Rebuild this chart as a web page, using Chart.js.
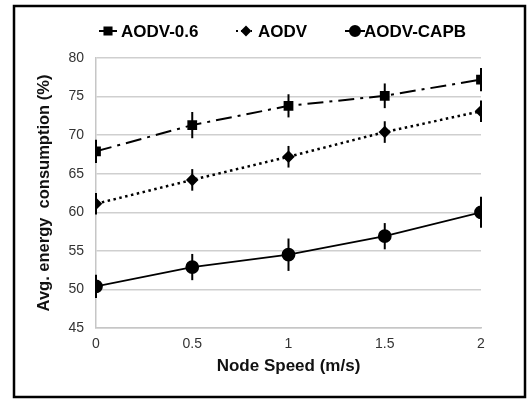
<!DOCTYPE html>
<html>
<head>
<meta charset="utf-8">
<script src="https://cdn.jsdelivr.net/npm/chart.js@4.4.0/dist/chart.umd.min.js"></script>
<style>
  html, body { margin: 0; padding: 0; background: #fff; }
  #wrap { width: 528px; height: 401px; position: relative; }
</style>
</head>
<body>
<div id="wrap"><canvas id="energy-chart" width="528" height="401"></canvas></div>
<script>
// Data
const speeds = [0, 0.5, 1, 1.5, 2];
const aodv06 = [67.9, 71.3, 73.8, 75.1, 77.2];
const aodv06Err = [1.5, 1.7, 1.5, 1.6, 1.5];
const aodv = [61.1, 64.2, 67.2, 70.4, 73.1];
const aodvErr = [1.4, 1.4, 1.4, 1.4, 1.4];
const aodvCapb = [50.4, 52.9, 54.5, 56.9, 60.0];
const aodvCapbErr = [1.5, 1.7, 2.1, 1.7, 2.0];
const seriesNames = ['AODV-0.6', 'AODV', 'AODV-CAPB'];
const yTicks = [45, 50, 55, 60, 65, 70, 75, 80];
const xTickLabels = ['0', '0.5', '1', '1.5', '2'];

const toPoints = (vals) => vals.map((v, i) => ({ x: speeds[i], y: v }));

// vertical error bars, no caps
const errorBars = {
    id: 'errorBars',
    afterDatasetsDraw(chart) {
        const ctx = chart.ctx;
        const xs = chart.scales.x, ys = chart.scales.y;
        ctx.save();
        ctx.strokeStyle = '#000';
        ctx.lineWidth = 2;
        chart.data.datasets.forEach(ds => {
            ds.data.forEach((p, i) => {
                const e = ds.errors[i];
                const px = xs.getPixelForValue(p.x);
                ctx.beginPath();
                ctx.moveTo(px, ys.getPixelForValue(p.y - e));
                ctx.lineTo(px, ys.getPixelForValue(p.y + e));
                ctx.stroke();
            });
        });
        ctx.restore();
    }
};

// legend (line + marker + name) and outer frame
const legendFrame = {
    id: 'legendFrame',
    afterDraw(chart) {
        const ctx = chart.ctx;
        ctx.save();
        ctx.strokeStyle = '#000';
        ctx.lineWidth = 2.5;
        ctx.strokeRect(14, 6, 511, 391);

        const y = 31;
        const items = [
            { x0: 99, x1: 117, mx: 108, tx: 121, dash: [], style: 'rect', r: 5 },
            { x0: 236, x1: 252, mx: 246, tx: 258, dash: [2, 3], style: 'rectRot', r: 4 },
            { x0: 345, x1: 365, mx: 355, tx: 364, dash: [], style: 'circle', r: 5 }
        ];
        items.forEach((it, i) => {
            ctx.beginPath();
            ctx.setLineDash(it.dash);
            ctx.lineWidth = 2;
            ctx.moveTo(it.x0, y);
            ctx.lineTo(it.x1, y);
            ctx.stroke();
            ctx.setLineDash([]);
            Chart.helpers.drawPoint(ctx, { pointStyle: it.style, radius: it.r, borderWidth: 1 }, it.mx, y);
            ctx.fillStyle = '#000';
            ctx.fill();
            ctx.font = 'bold 17px "Liberation Sans", Arial, sans-serif';
            ctx.textBaseline = 'middle';
            ctx.fillText(seriesNames[i], it.tx, y + 1);
        });
        ctx.restore();
    }
};

const ctx = document.getElementById('energy-chart').getContext('2d');
new Chart(ctx, {
    type: 'line',
    data: {
        datasets: [
            {
                label: seriesNames[0],
                data: toPoints(aodv06),
                errors: aodv06Err,
                borderColor: '#000',
                backgroundColor: '#000',
                borderWidth: 2,
                borderDash: [16, 6, 3, 6],
                pointStyle: 'rect',
                pointRadius: 5.5,
                tension: 0
            },
            {
                label: seriesNames[1],
                data: toPoints(aodv),
                errors: aodvErr,
                borderColor: '#000',
                backgroundColor: '#000',
                borderWidth: 2.5,
                borderDash: [2.5, 3.5],
                pointStyle: 'rectRot',
                pointRadius: 4.5,
                tension: 0
            },
            {
                label: seriesNames[2],
                data: toPoints(aodvCapb),
                errors: aodvCapbErr,
                borderColor: '#000',
                backgroundColor: '#000',
                borderWidth: 1.8,
                pointStyle: 'circle',
                pointRadius: 6,
                tension: 0
            }
        ]
    },
    options: {
        responsive: false,
        animation: false,
        layout: { padding: { left: 14, right: 47, top: 58, bottom: 5 } },
        plugins: {
            legend: { display: false },
            tooltip: { enabled: false }
        },
        scales: {
            x: {
                type: 'linear',
                min: 0,
                max: 2,
                afterFit(scale) { scale.height = 68; },
                grid: { display: false, drawTicks: false },
                border: { display: true, color: '#c6c6c6', width: 1.5 },
                ticks: {
                    stepSize: 0.5,
                    padding: 8,
                    color: '#333',
                    font: { family: '"Liberation Sans", Arial, sans-serif', size: 14 },
                    callback: (v, i) => xTickLabels[i]
                },
                title: {
                    display: true,
                    text: 'Node Speed (m/s)',
                    color: '#111',
                    padding: { top: 0, bottom: 19 },
                    font: { family: '"Liberation Sans", Arial, sans-serif', size: 17, weight: 'bold' }
                }
            },
            y: {
                min: 45,
                max: 80,
                afterFit(scale) { scale.width = 82; },
                afterBuildTicks(scale) { scale.ticks = yTicks.map(v => ({ value: v })); },
                grid: { color: '#cfcfcf', lineWidth: 1.5, drawTicks: false },
                border: { display: true, color: '#c6c6c6', width: 1.5 },
                ticks: {
                    padding: 12,
                    color: '#333',
                    font: { family: '"Liberation Sans", Arial, sans-serif', size: 14 }
                },
                title: {
                    display: true,
                    text: 'Avg. energy  consumption (%)',
                    color: '#111',
                    padding: { top: 21, bottom: 0 },
                    font: { family: '"Liberation Sans", Arial, sans-serif', size: 16.5, weight: 'bold' }
                }
            }
        }
    },
    plugins: [errorBars, legendFrame]
});
</script>
</body>
</html>
